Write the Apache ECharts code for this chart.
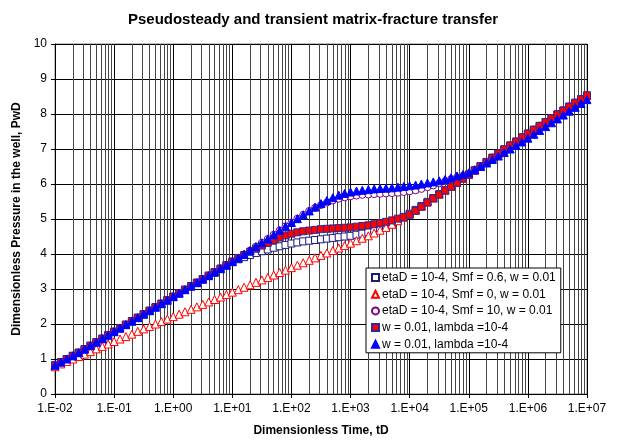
<!DOCTYPE html>
<html><head><meta charset="utf-8">
<script src="https://cdn.jsdelivr.net/npm/echarts@6/dist/echarts.min.js"></script>
<style>html,body{margin:0;padding:0;background:#fff}#c{width:620px;height:444px}</style>
</head><body><div id="c"></div>
<script>
const tD = [0.01,0.0126,0.0158,0.02,0.0251,0.0316,0.0398,0.0501,0.0631,0.0794,
0.1,0.126,0.158,0.2,0.251,0.316,0.398,0.501,0.631,0.794,
1,1.26,1.58,2,2.51,3.16,3.98,5.01,6.31,7.94,
10,12.6,15.8,20,25.1,31.6,39.8,50.1,63.1,79.4,
100,126,158,200,251,316,398,501,631,794,
1000,1260,1580,2000,2510,3160,3980,5010,6310,7940,
10000,12600,15800,20000,25100,31600,39800,50100,63100,79400,
100000,126000,158000,200000,251000,316000,398000,501000,631000,794000,
1000000,1260000,1580000,2000000,2510000,3160000,3980000,5010000,6310000,7940000,
10000000];

const smf06 = [0.82,0.91,1.00,1.09,1.18,1.28,1.38,1.48,1.58,1.68,
1.78,1.88,1.98,2.08,2.18,2.28,2.38,2.48,2.58,2.68,
2.78,2.88,2.98,3.08,3.18,3.28,3.38,3.48,3.58,3.68,
3.78,3.85,3.91,3.97,4.03,4.08,4.13,4.18,4.22,4.26,
4.30,4.33,4.36,4.38,4.40,4.42,4.44,4.46,4.48,4.50,
4.52,4.55,4.58,4.62,4.67,4.73,4.80,4.87,4.95,5.05,
5.15,5.26,5.37,5.49,5.60,5.71,5.82,5.93,6.04,6.16,
6.27,6.39,6.51,6.63,6.75,6.87,6.99,7.10,7.21,7.33,
7.44,7.55,7.66,7.77,7.88,7.99,8.10,8.21,8.32,8.42,
8.53];

const smf0 = [0.78,0.86,0.93,1.00,1.07,1.14,1.21,1.29,1.36,1.43,
1.50,1.57,1.64,1.71,1.79,1.86,1.93,2.00,2.07,2.14,
2.21,2.28,2.35,2.42,2.49,2.56,2.63,2.70,2.77,2.84,
2.91,2.98,3.05,3.12,3.19,3.26,3.33,3.40,3.47,3.54,
3.61,3.68,3.75,3.82,3.89,3.96,4.03,4.10,4.17,4.24,
4.31,4.38,4.45,4.52,4.60,4.68,4.76,4.85,4.95,5.05,
5.15,5.26,5.37,5.49,5.60,5.71,5.82,5.93,6.04,6.16,
6.27,6.39,6.51,6.63,6.75,6.87,6.99,7.10,7.21,7.33,
7.44,7.55,7.66,7.77,7.88,7.99,8.10,8.21,8.32,8.42,
8.53];

const smf10 = [0.82,0.91,1.00,1.09,1.18,1.28,1.38,1.48,1.58,1.68,
1.78,1.88,1.98,2.08,2.18,2.28,2.38,2.48,2.58,2.68,
2.78,2.88,2.98,3.08,3.18,3.28,3.38,3.48,3.58,3.68,
3.78,3.88,3.99,4.10,4.21,4.32,4.43,4.55,4.67,4.79,
4.90,5.01,5.12,5.23,5.32,5.40,5.47,5.53,5.58,5.62,
5.65,5.67,5.69,5.70,5.71,5.72,5.73,5.74,5.75,5.77,
5.79,5.82,5.86,5.91,5.96,6.02,6.08,6.14,6.19,6.23,
6.28,6.39,6.51,6.63,6.75,6.87,6.99,7.10,7.21,7.33,
7.44,7.55,7.66,7.77,7.88,7.99,8.10,8.21,8.32,8.42,
8.53];

const pssA = [0.82,0.91,1.00,1.09,1.18,1.28,1.38,1.48,1.58,1.68,
1.78,1.88,1.98,2.08,2.18,2.28,2.38,2.48,2.58,2.68,
2.78,2.88,2.98,3.08,3.18,3.28,3.38,3.48,3.58,3.68,
3.78,3.88,3.97,4.06,4.15,4.24,4.32,4.40,4.47,4.53,
4.58,4.62,4.65,4.67,4.69,4.71,4.72,4.73,4.74,4.75,
4.76,4.78,4.80,4.82,4.85,4.88,4.92,4.96,5.01,5.06,
5.12,5.23,5.35,5.47,5.59,5.70,5.82,5.93,6.04,6.16,
6.27,6.39,6.51,6.63,6.75,6.87,6.99,7.10,7.21,7.33,
7.44,7.55,7.66,7.77,7.88,7.99,8.10,8.21,8.32,8.42,
8.53];

const pssB = [0.82,0.91,1.00,1.09,1.18,1.28,1.38,1.48,1.58,1.68,
1.78,1.88,1.98,2.08,2.18,2.28,2.38,2.48,2.58,2.68,
2.78,2.88,2.98,3.08,3.18,3.28,3.38,3.48,3.58,3.68,
3.78,3.88,3.99,4.10,4.21,4.32,4.43,4.55,4.67,4.79,
4.90,5.01,5.12,5.23,5.34,5.44,5.53,5.61,5.68,5.73,
5.77,5.80,5.82,5.84,5.86,5.87,5.88,5.89,5.91,5.93,
5.95,5.97,6.00,6.03,6.06,6.09,6.13,6.18,6.23,6.27,
6.32,6.41,6.50,6.60,6.70,6.80,6.90,7.00,7.10,7.20,
7.31,7.42,7.53,7.64,7.75,7.86,7.97,8.08,8.19,8.30,
8.41];

const seriesNames = ['etaD = 10-4, Smf = 0.6, w = 0.01','etaD = 10-4, Smf = 0, w = 0.01','etaD = 10-4, Smf = 10, w = 0.01','w = 0.01, lambda =10-4','w = 0.01, lambda =10-4 '];
const yTicks = [0,1,2,3,4,5,6,7,8,9,10];
const xDecades = [0.01,0.1,1,10,100,1000,10000,100000,1000000,10000000];

const minorX = [];
for (let i = 0; i < xDecades.length - 1; i++) for (let m = 2; m <= 9; m++) minorX.push(xDecades[i] * m);

const pairs = arr => tD.map((t, i) => [t, arr[i]]);
const FONT = 'Liberation Sans, Arial, sans-serif';

function fmtX(v) {
  const e = Math.round(Math.log10(v));
  const a = Math.abs(e);
  return '1.E' + (e < 0 ? '-' : '+') + (a < 10 ? '0' + a : a);
}

const chart = echarts.init(document.getElementById('c'), null, {renderer: 'canvas'});
chart.setOption({
  animation: false,
  backgroundColor: '#fff',
  title: {text: 'Pseudosteady and transient matrix-fracture transfer', left: 308, top: 7, textAlign: 'center',
    textStyle: {fontFamily: FONT, fontSize: 15, fontWeight: 'bold', color: '#000'}},
  grid: {left: 55, right: 33, top: 44, bottom: 50, show: true, borderColor: '#808080', borderWidth: 1, backgroundColor: '#fff'},
  legend: {
    left: 366, top: 268, orient: 'vertical', backgroundColor: '#fff', borderColor: '#000', borderWidth: 1,
    padding: [3, 5, 2, 5], itemWidth: 7, itemHeight: 7, itemGap: 3.7,
    textStyle: {fontFamily: FONT, fontSize: 12, color: '#000', lineHeight: 13, padding: [0, 0, 0, -2]},
    data: seriesNames
  },
  xAxis: {
    type: 'log', logBase: 10, min: xDecades[0], max: xDecades[xDecades.length - 1],
    name: 'Dimensionless Time, tD', nameLocation: 'middle', nameGap: 31,
    nameTextStyle: {fontFamily: FONT, fontSize: 12, fontWeight: 'bold', color: '#000'},
    axisLine: {lineStyle: {color: '#000', width: 1}},
    axisTick: {show: true, length: 4, lineStyle: {color: '#000'}},
    axisLabel: {formatter: fmtX, fontFamily: FONT, fontSize: 12, color: '#000', margin: 9},
    splitLine: {show: true, lineStyle: {color: '#000', width: 1}}
  },
  yAxis: {
    type: 'value', min: yTicks[0], max: yTicks[yTicks.length - 1], interval: 1,
    name: 'Dimensionless Pressure in the well, PwD', nameLocation: 'middle', nameGap: 30,
    nameTextStyle: {fontFamily: FONT, fontSize: 12, fontWeight: 'bold', color: '#000'},
    axisLine: {show: true, lineStyle: {color: '#000', width: 1}},
    axisTick: {show: true, length: 4, lineStyle: {color: '#000'}},
    axisLabel: {fontFamily: FONT, fontSize: 12, color: '#000', margin: 8},
    splitLine: {show: true, lineStyle: {color: '#000', width: 1}}
  },
  series: [
    {type: 'line', data: [], silent: true, z: 1,
      markLine: {silent: true, symbol: 'none', z: 1, animation: false,
        label: {show: false}, lineStyle: {color: '#444', width: 1, type: 'solid'},
        emphasis: {disabled: true},
        data: minorX.map(v => ({xAxis: v}))}},
    {name: seriesNames[0], type: 'scatter', data: pairs(smf06), symbol: 'rect', symbolSize: 7, z: 3,
      itemStyle: {color: '#fff', borderColor: '#1a1a80', borderWidth: 1, opacity: 1}},
    {name: seriesNames[1], type: 'scatter', data: pairs(smf0), symbol: 'triangle', symbolSize: 8, z: 4,
      itemStyle: {color: '#fff', borderColor: '#ff0000', borderWidth: 1, opacity: 1}},
    {name: seriesNames[2], type: 'scatter', data: pairs(smf10), symbol: 'circle', symbolSize: 7, z: 5,
      itemStyle: {color: '#fff', borderColor: '#800080', borderWidth: 1, opacity: 1}},
    {name: seriesNames[3], type: 'scatter', data: pairs(pssA), symbol: 'rect', symbolSize: 7, z: 6,
      itemStyle: {color: '#ff0000', borderColor: '#2a2a9a', borderWidth: 1, opacity: 1}},
    {name: seriesNames[4], type: 'scatter', data: pairs(pssB), symbol: 'triangle', symbolSize: 8, z: 7,
      itemStyle: {color: '#0000ff', borderColor: '#0000ff', borderWidth: 1, opacity: 1}}
  ]
});
</script></body></html>
